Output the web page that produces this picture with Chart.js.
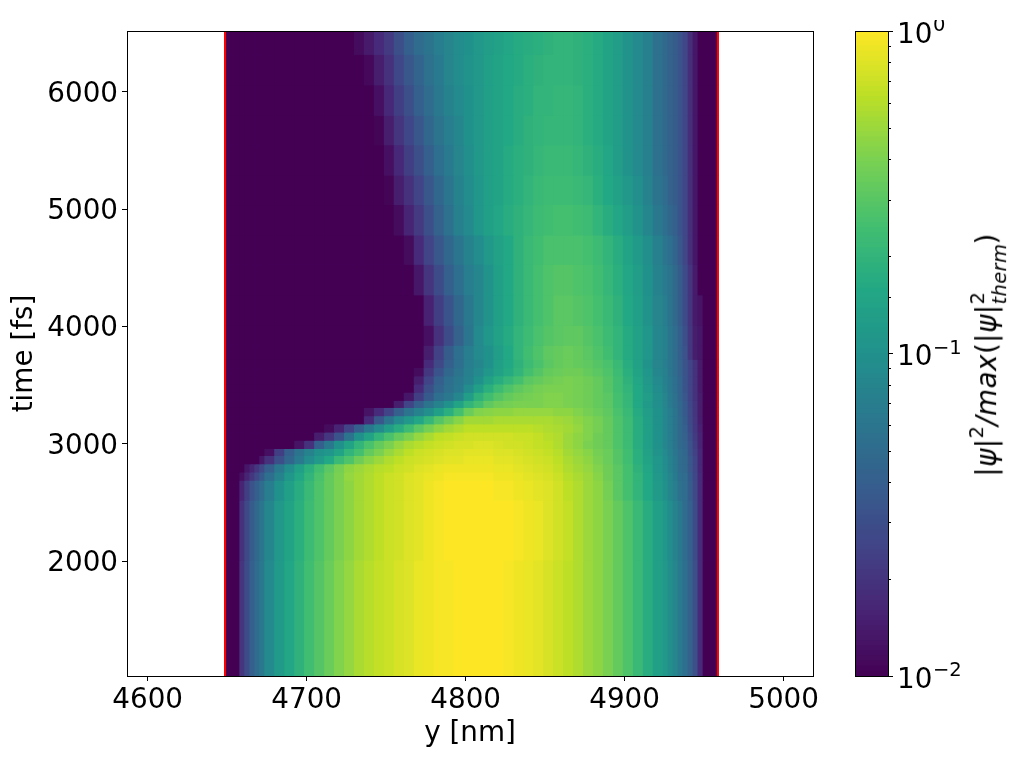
<!DOCTYPE html>
<html>
<head>
<meta charset="utf-8">
<script src="https://cdn.jsdelivr.net/npm/chart.js@4"></script>
<style>
    html, body { margin: 0; padding: 0; background: #fff; overflow: hidden; }
    canvas { position: absolute; }
    #mainChart { left: 0; top: 0; }
    #colorbarChart { left: 830px; top: 20px; }
    #colorbarLabel {
        position: absolute; left: 987px; top: 355px; white-space: nowrap;
        transform: translate(-50%, -50%) rotate(-90deg);
        font: 27.8px "DejaVu Sans"; color: #000; line-height: 1; letter-spacing: 0.4px;
    }
    #colorbarLabel sup { font-size: 19.5px; position: relative; top: -3px; vertical-align: super; line-height: 0; }
    .supsub { display: inline-block; position: relative; width: 60px; height: 10px; }
    .supsub b, .supsub em { position: absolute; left: 0; font-size: 19.5px; font-weight: normal; line-height: 1; }
    .supsub b { top: -18px; font-style: normal; }
    .supsub em { top: 4px; }
</style>
</head>
<body>
<canvas id="mainChart" width="830" height="761"></canvas>
<canvas id="colorbarChart" width="192" height="741"></canvas>
<div id="colorbarLabel">|<i>ψ</i>|<sup>2</sup><i>/max</i>(|<i>ψ</i>|<span class="supsub"><b>2</b><em>therm</em></span>)</div>
<script>
// Axis limits and ticks
const yNmRange = [4587, 5018.5];
const timeRange = [1020, 6520];
const yNmTicks = [4600, 4700, 4800, 4900, 5000];
const timeTicks = [2000, 3000, 4000, 5000, 6000];
const wallPositions = [4648.64, 4958.69];

// Cell edges along y [nm]
const columnEdges = [4648.6, 4658, 4661.1, 4664.3, 4667.4, 4670.5, 4673.7,
    4679.9, 4686.2, 4692.5, 4698.7, 4705, 4711.3, 4717.5, 4723.8, 4730.1, 4736.3,
    4742.6, 4748.9, 4755.1, 4761.4, 4767.7, 4773.9, 4780.2, 4786.5, 4792.7, 4799,
    4805.3, 4811.5, 4817.8, 4824, 4830.3, 4836.6, 4842.8, 4849.1, 4855.4, 4861.6,
    4867.9, 4874.2, 4880.4, 4886.7, 4893, 4899.2, 4905.5, 4911.8, 4918, 4924.3,
    4927.4, 4930.6, 4933.7, 4936.8, 4940, 4943.1, 4946.2, 4949.4, 4958.8];

// Row edges along time [fs], top to bottom
const rowEdges = [6520, 6320, 6060, 5800, 5550, 5290, 5040, 4780, 4530, 4270, 4010, 3840,
    3720, 3650, 3580, 3510, 3440, 3370, 3310, 3240, 3170, 3100, 3030, 2960, 2900, 2830,
    2760, 2690, 2520, 2010, 1020];

// Intensity per row, as percent along the log colour scale (0 = 10^-2, 100 = 10^0)
const row00 = [0,0,0,0,0,0,0,0,0,0,0,0,0,0,0,3,7,12,17,24,30,35,38,42,45,48,50,53,55,57,59,61,62,63,64,65,65,64,63,61,58,55,51,47,43,37,34,31,29,26,21,13,6,0,0];
const row01 = [0,0,0,0,0,0,0,0,0,0,0,0,0,0,0,0,2,8,14,21,27,32,37,41,45,48,51,53,56,58,60,61,63,64,65,65,65,64,63,61,58,55,51,47,43,37,34,31,29,26,21,13,6,0,0];
const row02 = [0,0,0,0,0,0,0,0,0,0,0,0,0,0,0,0,0,4,11,18,24,30,35,40,44,47,50,53,56,58,60,62,63,65,65,66,66,65,63,61,58,55,51,47,43,37,34,31,29,26,21,13,6,0,0];
const row03 = [0,0,0,0,0,0,0,0,0,0,0,0,0,0,0,0,0,1,8,15,21,27,33,38,42,46,50,53,56,58,60,62,64,65,66,66,66,65,63,61,58,55,51,47,43,37,34,31,29,26,21,13,6,0,0];
const row04 = [0,0,0,0,0,0,0,0,0,0,0,0,0,0,0,0,0,0,4,11,18,24,30,36,41,45,49,53,56,58,61,63,64,66,67,67,67,66,64,62,59,55,51,47,43,37,34,31,29,26,21,13,6,0,0];
const row05 = [0,0,0,0,0,0,0,0,0,0,0,0,0,0,0,0,0,0,1,8,14,20,27,33,39,44,48,52,56,58,61,63,65,67,68,68,68,67,66,63,60,57,53,49,44,38,35,31,29,26,21,13,6,0,0];
const row06 = [0,0,0,0,0,0,0,0,0,0,0,0,0,0,0,0,0,0,0,3,10,17,24,31,37,43,47,52,56,59,62,64,66,68,69,70,70,69,68,65,62,59,55,51,46,40,36,33,30,26,21,13,6,0,0];
const row07 = [0,0,0,0,0,0,0,0,0,0,0,0,0,0,0,0,0,0,0,0,3,12,20,27,33,39,44,48,53,57,60,64,67,69,71,71,71,71,70,68,65,62,58,54,49,43,39,36,32,27,21,13,6,0,0];
const row08 = [0,0,0,0,0,0,0,0,0,0,0,0,0,0,0,0,0,0,0,0,0,6,15,23,30,36,42,46,51,56,60,64,67,70,72,73,73,72,71,69,66,63,59,55,50,44,41,38,34,29,23,15,7,0,0];
const row09 = [0,0,0,0,0,0,0,0,0,0,0,0,0,0,0,0,0,0,0,0,0,0,9,18,26,33,40,46,51,56,60,64,67,70,72,74,74,73,72,70,67,64,60,56,51,45,42,38,34,29,23,15,7,5,0];
const row10 = [0,0,0,0,0,0,0,0,0,0,0,0,0,0,0,0,0,0,0,0,0,0,4,14,23,31,39,47,52,57,61,65,68,71,73,74,75,75,73,71,68,65,61,57,52,46,43,39,35,30,24,16,8,6,0];
const row11 = [0,0,0,0,0,0,0,0,0,0,0,0,0,0,0,0,0,0,0,0,0,0,8,19,29,36,42,47,50,55,60,65,69,72,75,76,77,76,74,72,69,65,61,57,52,46,43,39,35,30,25,16,8,6,0];
const row12 = [0,0,0,0,0,0,0,0,0,0,0,0,0,0,0,0,0,0,0,0,0,0,12,22,30,36,42,46,50,56,60,64,68,71,74,76,77,76,75,73,71,67,62,57,51,45,42,39,35,31,26,20,14,7,0];
const row13 = [0,0,0,0,0,0,0,0,0,0,0,0,0,0,0,0,0,0,0,0,0,3,16,26,33,38,43,47,52,57,61,65,70,73,76,77,78,78,76,74,72,68,63,58,52,46,43,39,35,31,26,20,14,7,0];
const row14 = [0,0,0,0,0,0,0,0,0,0,0,0,0,0,0,0,0,0,0,0,0,8,20,30,36,40,44,50,57,62,66,70,74,76,78,79,80,79,78,76,73,69,64,59,53,47,43,40,36,32,26,20,14,7,0];
const row15 = [0,0,0,0,0,0,0,0,0,0,0,0,0,0,0,0,0,0,0,0,0,12,24,32,37,41,48,56,63,68,72,75,77,79,80,80,80,79,78,76,73,69,65,60,54,48,44,40,36,32,26,20,14,7,0];
const row16 = [0,0,0,0,0,0,0,0,0,0,0,0,0,0,0,0,0,0,0,0,6,18,28,36,40,46,55,64,69,73,76,78,79,80,81,81,80,79,78,76,74,70,66,60,55,49,45,41,37,32,27,20,14,8,0];
const row17 = [0,0,0,0,0,0,0,0,0,0,0,0,0,0,0,0,0,0,0,8,20,30,38,44,50,58,65,70,75,78,79,80,80,80,81,81,80,79,78,76,74,70,66,60,54,49,45,41,37,33,28,21,15,8,0];
const row18 = [0,0,0,0,0,0,0,0,0,0,0,0,0,0,0,0,5,12,20,30,38,44,49,56,63,70,77,81,82,83,83,84,84,84,84,83,83,81,79,77,75,71,67,61,55,50,46,42,38,33,28,22,15,8,0];
const row19 = [0,0,0,0,0,0,0,0,0,0,0,0,0,0,0,0,12,27,38,47,53,59,66,73,78,82,86,86,86,87,87,87,87,87,87,86,85,83,81,79,76,72,68,62,56,50,46,42,38,34,29,22,16,8,0];
const row20 = [0,0,0,0,0,0,0,0,0,0,0,0,3,10,20,30,40,47,55,62,68,74,79,83,86,88,90,90,90,90,90,90,90,89,88,87,86,84,81,79,76,72,68,62,56,50,46,42,38,34,30,23,16,9,0];
const row21 = [0,0,0,0,0,0,0,0,0,0,0,8,16,26,38,50,58,65,71,76,80,84,87,90,91,92,93,93,93,93,93,92,92,91,89,88,85,83,81,78,76,72,68,62,56,50,46,42,38,34,31,24,17,10,0];
const row22 = [0,0,0,0,0,0,0,0,0,5,14,30,40,50,58,65,71,76,80,84,87,89,91,92,93,94,94,95,95,94,93,93,92,91,90,88,85,83,80,78,76,72,68,62,56,50,46,42,38,34,32,25,18,10,0];
const row23 = [0,0,0,0,0,0,4,18,30,38,44,50,52,58,65,70,76,80,84,87,90,92,93,94,95,95,96,96,96,95,95,94,93,92,91,89,86,84,82,79,77,73,69,63,57,51,47,43,39,35,33,26,19,11,0];
const row24 = [0,0,0,0,0,6,14,24,33,41,48,54,60,67,72,78,82,85,88,90,92,93,94,95,96,96,97,97,97,96,96,95,94,93,92,90,87,85,83,80,77,73,69,63,58,52,48,44,40,35,34,27,20,11,0];
const row25 = [0,0,6,10,16,22,30,40,48,56,63,69,74,79,83,85,87,89,90,92,93,95,96,97,98,98,98,98,98,97,97,96,95,94,93,91,88,86,84,81,78,74,70,64,59,52,48,44,40,35,34,27,20,11,0];
const row26 = [0,4,10,16,22,28,36,44,52,59,65,71,76,80,84,86,88,90,92,93,95,96,97,98,99,99,99,99,99,98,98,97,96,95,94,92,89,87,85,82,78,74,70,65,60,53,49,45,41,36,35,28,21,12,0];
const row27 = [0,10,18,25,30,35,42,50,56,62,67,72,76,80,83,86,88,90,92,93,95,96,98,99,100,100,100,100,100,99,99,98,97,96,95,93,90,88,85,83,79,74,70,65,60,54,50,46,42,37,35,29,22,12,0];
const row28 = [0,14,22,29,34,39,46,53,58,63,68,72,76,80,83,86,88,90,92,93,95,96,98,99,100,100,100,100,100,100,100,99,98,97,95,93,91,88,85,83,80,76,72,67,62,56,52,48,44,40,35,30,23,12,0];
const row29 = [0,15,23,30,35,40,47,54,59,64,69,73,77,81,84,87,89,91,92,94,95,97,98,99,99,100,100,100,100,100,99,98,97,96,94,92,90,88,85,83,80,76,72,67,62,56,53,49,45,41,36,31,24,12,0];
const intensityRows = [row00, row01, row02, row03, row04, row05, row06, row07, row08, row09,
    row10, row11, row12, row13, row14, row15, row16, row17, row18, row19,
    row20, row21, row22, row23, row24, row25, row26, row27, row28, row29];

// Colour bar ticks
const colorbarMin = 0.01;
const colorbarMax = 1;
const colorbarLabels = [[1, '0'], [0.1, '\u22121'], [0.01, '\u22122']];

const viridisStops = ['#440154', '#482475', '#414487', '#355f8d', '#2a788e', '#21918c', '#22a884', '#44bf70', '#7ad151', '#bddf26', '#fde725'];
const FONT = '"DejaVu Sans"';
const FONT_SIZE = 27.8;

function hexToRgb(hex) {
    return [1, 3, 5].map(function(i) { return parseInt(hex.substr(i, 2), 16); });
}

// Percent along the colour scale to a viridis colour
function viridis(percent) {
    const pos = Math.min(Math.max(percent, 0), 100) / 10;
    const i = Math.min(Math.floor(pos), 9);
    const a = hexToRgb(viridisStops[i]);
    const b = hexToRgb(viridisStops[i + 1]);
    const rgb = a.map(function(c, k) { return Math.round(c + (b[k] - c) * (pos - i)); });
    return 'rgb(' + rgb.join(',') + ')';
}

// Draw the closed axes box
const frameBox = {
    id: 'frameBox',
    afterDraw(chart) {
        const a = chart.chartArea, ctx = chart.ctx;
        ctx.save();
        ctx.strokeStyle = '#000';
        ctx.lineWidth = 1;
        ctx.strokeRect(Math.round(a.left) + 0.5, Math.round(a.top) + 0.5, Math.round(a.right - a.left), Math.round(a.bottom - a.top));
        ctx.restore();
    }
};

function isDecade(v) {
    const l = Math.log10(v);
    return Math.abs(l - Math.round(l)) < 1e-6;
}

// Short minor ticks and the mathtext style labels of the colour bar
const colorbarDecor = {
    id: 'colorbarDecor',
    afterDraw(chart) {
        const scale = chart.scales.y, ctx = chart.ctx;
        ctx.save();
        ctx.strokeStyle = '#000';
        ctx.lineWidth = 1;
        scale.ticks.forEach(function(t) {
            if (isDecade(t.value)) return;
            const py = Math.round(scale.getPixelForValue(t.value)) + 0.5;
            ctx.beginPath();
            ctx.moveTo(scale.left, py);
            ctx.lineTo(scale.left + 3, py);
            ctx.stroke();
        });
        ctx.fillStyle = '#000';
        ctx.textBaseline = 'alphabetic';
        colorbarLabels.forEach(function(item) {
            const py = scale.getPixelForValue(item[0]);
            const lx = scale.left + 9;
            ctx.font = FONT_SIZE + 'px ' + FONT;
            ctx.fillText('10', lx, py + 11.5);
            ctx.font = '19.5px ' + FONT;
            ctx.fillText(item[1], lx + 36, py);
        });
        ctx.restore();
    }
};

const PLOT_HEIGHT = 645;
const pxPerFs = PLOT_HEIGHT / (timeRange[1] - timeRange[0]);

// One floating bar dataset per row of the map
const datasets = intensityRows.map(function(values, r) {
    const top = rowEdges[r], bottom = rowEdges[r + 1];
    return {
        type: 'bar',
        indexAxis: 'y',
        grouped: false,
        order: 2,
        barThickness: (top - bottom) * pxPerFs,
        inflateAmount: 0.5,
        borderWidth: 0,
        backgroundColor: values.map(viridis),
        data: values.map(function(v, c) {
            return { y: (top + bottom) / 2, x: [columnEdges[c], columnEdges[c + 1]] };
        })
    };
});

// The two red walls
wallPositions.forEach(function(pos) {
    datasets.push({
        type: 'scatter',
        order: 1,
        showLine: true,
        pointRadius: 0,
        borderColor: '#ff0000',
        borderWidth: 2,
        data: [{ x: pos, y: timeRange[0] }, { x: pos, y: timeRange[1] }]
    });
});

function fixedTicks(list) {
    return function(scale) { scale.ticks = list.map(function(v) { return { value: v }; }); };
}

function plainTick(v) {
    return String(v);
}

// Empty first line nudges the label down to sit on its tick like the original
function nudgedTick(v) {
    return ['', String(v)];
}

new Chart(document.getElementById('mainChart'), {
    data: { datasets: datasets },
    plugins: [frameBox],
    options: {
        responsive: false,
        animation: false,
        events: [],
        layout: { padding: { left: 0, top: 31, right: 17, bottom: 0 } },
        plugins: { legend: { display: false }, tooltip: { enabled: false } },
        scales: {
            x: {
                type: 'linear',
                offset: false,
                min: yNmRange[0],
                max: yNmRange[1],
                afterBuildTicks: fixedTicks(yNmTicks),
                afterFit: function(s) { s.height = 85; },
                grid: { offset: false, drawOnChartArea: false, tickLength: 5, tickColor: '#000' },
                border: { color: '#000' },
                ticks: { callback: plainTick, color: '#000', font: { family: FONT, size: FONT_SIZE }, padding: 3, maxRotation: 0, autoSkip: false },
                title: { display: true, text: 'y [nm]', color: '#000', font: { family: FONT, size: FONT_SIZE }, padding: { top: 0, bottom: 11 } }
            },
            y: {
                type: 'linear',
                offset: false,
                min: timeRange[0],
                max: timeRange[1],
                afterBuildTicks: fixedTicks(timeTicks),
                afterFit: function(s) { s.width = 127; },
                grid: { offset: false, drawOnChartArea: false, tickLength: 5, tickColor: '#000' },
                border: { color: '#000' },
                ticks: { callback: nudgedTick, color: '#000', font: { family: FONT, size: FONT_SIZE, lineHeight: 0.18 }, padding: 4, autoSkip: false },
                title: { display: true, text: 'time [fs]', color: '#000', font: { family: FONT, size: FONT_SIZE }, padding: { top: 8, bottom: 0 } }
            }
        }
    }
});

// Colour bar: one thin floating bar per colour step on the log axis
const colorbarSteps = 128;
const colorbarDatasets = [];
for (let i = 0; i < colorbarSteps; i++) {
    const span = Math.log10(colorbarMax / colorbarMin);
    colorbarDatasets.push({
        grouped: false,
        barThickness: 33,
        inflateAmount: 0.5,
        borderWidth: 0,
        backgroundColor: viridis((i + 0.5) / colorbarSteps * 100),
        data: [{ x: 'bar', y: [colorbarMin * Math.pow(10, span * i / colorbarSteps), colorbarMin * Math.pow(10, span * (i + 1) / colorbarSteps)] }]
    });
}

new Chart(document.getElementById('colorbarChart'), {
    type: 'bar',
    data: { labels: ['bar'], datasets: colorbarDatasets },
    plugins: [frameBox, colorbarDecor],
    options: {
        responsive: false,
        animation: false,
        events: [],
        layout: { padding: { left: 25, top: 11, right: 0, bottom: 85 } },
        plugins: { legend: { display: false }, tooltip: { enabled: false } },
        scales: {
            x: { type: 'category', display: false },
            y: {
                type: 'logarithmic',
                position: 'right',
                min: colorbarMin,
                max: colorbarMax,
                afterFit: function(s) { s.width = 134; },
                grid: {
                    drawOnChartArea: false,
                    tickLength: 5,
                    tickColor: function(ctx) { return ctx.tick && isDecade(ctx.tick.value) ? '#000' : 'rgba(0,0,0,0)'; }
                },
                border: { color: '#000' },
                ticks: { display: false, autoSkip: false }
            }
        }
    }
});
</script>
</body>
</html>
